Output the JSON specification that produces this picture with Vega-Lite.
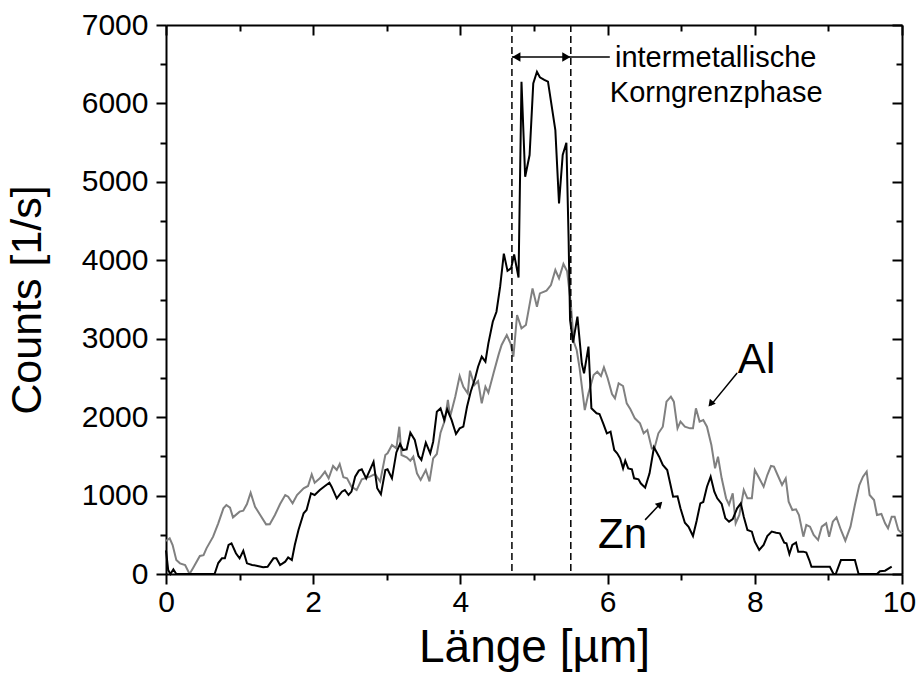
{
  "$schema": "https://vega.github.io/schema/vega-lite/v6.json",
  "width": 736,
  "height": 549,
  "autosize": {"type": "none"},
  "padding": {"left": 166, "top": 25, "right": 16, "bottom": 101},
  "background": "white",
  "config": {
    "view": {"stroke": null},
    "font": "Liberation Sans",
    "axis": {
      "domainColor": "black", "domainWidth": 2, "tickColor": "black", "tickWidth": 2,
      "labelColor": "black", "titleColor": "black",
      "labelFont": "Liberation Sans", "titleFont": "Liberation Sans",
      "labelFontSize": 30, "titleFontSize": 45, "titleFontWeight": "normal", "grid": false,
      "labelFlush": false, "labelOverlap": false
    }
  },
  "datasets": {
    "profiles": [
      {"element":"Al","x":0.00,"y":420},{"element":"Al","x":0.05,"y":455},{"element":"Al","x":0.09,"y":370},{"element":"Al","x":0.14,"y":178},{"element":"Al","x":0.19,"y":136},{"element":"Al","x":0.26,"y":115},{"element":"Al","x":0.32,"y":0},{"element":"Al","x":0.37,"y":80},{"element":"Al","x":0.46,"y":230},{"element":"Al","x":0.51,"y":240},{"element":"Al","x":0.55,"y":327},{"element":"Al","x":0.64,"y":476},{"element":"Al","x":0.71,"y":646},{"element":"Al","x":0.78,"y":837},{"element":"Al","x":0.82,"y":880},{"element":"Al","x":0.87,"y":845},{"element":"Al","x":0.91,"y":722},{"element":"Al","x":1.00,"y":795},{"element":"Al","x":1.05,"y":807},{"element":"Al","x":1.10,"y":892},{"element":"Al","x":1.15,"y":1037},{"element":"Al","x":1.21,"y":858},{"element":"Al","x":1.28,"y":752},{"element":"Al","x":1.36,"y":633},{"element":"Al","x":1.41,"y":635},{"element":"Al","x":1.48,"y":752},{"element":"Al","x":1.55,"y":892},{"element":"Al","x":1.62,"y":1007},{"element":"Al","x":1.66,"y":985},{"element":"Al","x":1.72,"y":901},{"element":"Al","x":1.78,"y":1007},{"element":"Al","x":1.87,"y":1093},{"element":"Al","x":1.93,"y":1122},{"element":"Al","x":1.98,"y":1271},{"element":"Al","x":2.02,"y":1164},{"element":"Al","x":2.09,"y":1220},{"element":"Al","x":2.16,"y":1305},{"element":"Al","x":2.21,"y":1220},{"element":"Al","x":2.27,"y":1377},{"element":"Al","x":2.32,"y":1326},{"element":"Al","x":2.36,"y":1403},{"element":"Al","x":2.41,"y":1233},{"element":"Al","x":2.46,"y":1220},{"element":"Al","x":2.52,"y":1113},{"element":"Al","x":2.59,"y":1070},{"element":"Al","x":2.66,"y":1207},{"element":"Al","x":2.77,"y":1241},{"element":"Al","x":2.84,"y":1275},{"element":"Al","x":2.91,"y":1180},{"element":"Al","x":2.98,"y":1517},{"element":"Al","x":3.01,"y":1539},{"element":"Al","x":3.07,"y":1645},{"element":"Al","x":3.13,"y":1602},{"element":"Al","x":3.17,"y":1878},{"element":"Al","x":3.20,"y":1517},{"element":"Al","x":3.27,"y":1488},{"element":"Al","x":3.32,"y":1445},{"element":"Al","x":3.36,"y":1496},{"element":"Al","x":3.41,"y":1284},{"element":"Al","x":3.46,"y":1199},{"element":"Al","x":3.53,"y":1326},{"element":"Al","x":3.58,"y":1180},{"element":"Al","x":3.63,"y":1475},{"element":"Al","x":3.68,"y":1530},{"element":"Al","x":3.73,"y":1802},{"element":"Al","x":3.79,"y":1964},{"element":"Al","x":3.83,"y":2219},{"element":"Al","x":3.86,"y":2006},{"element":"Al","x":3.93,"y":2261},{"element":"Al","x":3.99,"y":2524},{"element":"Al","x":4.04,"y":2388},{"element":"Al","x":4.10,"y":2304},{"element":"Al","x":4.13,"y":2592},{"element":"Al","x":4.19,"y":2410},{"element":"Al","x":4.24,"y":2460},{"element":"Al","x":4.29,"y":2176},{"element":"Al","x":4.34,"y":2388},{"element":"Al","x":4.38,"y":2312},{"element":"Al","x":4.45,"y":2559},{"element":"Al","x":4.52,"y":2800},{"element":"Al","x":4.56,"y":2920},{"element":"Al","x":4.63,"y":3047},{"element":"Al","x":4.68,"y":2941},{"element":"Al","x":4.72,"y":2771},{"element":"Al","x":4.77,"y":3302},{"element":"Al","x":4.83,"y":3132},{"element":"Al","x":4.89,"y":3175},{"element":"Al","x":4.98,"y":3642},{"element":"Al","x":5.04,"y":3408},{"element":"Al","x":5.08,"y":3578},{"element":"Al","x":5.17,"y":3612},{"element":"Al","x":5.23,"y":3685},{"element":"Al","x":5.29,"y":3876},{"element":"Al","x":5.34,"y":3770},{"element":"Al","x":5.40,"y":3953},{"element":"Al","x":5.45,"y":3860},{"element":"Al","x":5.50,"y":3451},{"element":"Al","x":5.54,"y":2962},{"element":"Al","x":5.58,"y":2856},{"element":"Al","x":5.62,"y":2622},{"element":"Al","x":5.69,"y":2091},{"element":"Al","x":5.74,"y":2304},{"element":"Al","x":5.81,"y":2537},{"element":"Al","x":5.86,"y":2579},{"element":"Al","x":5.91,"y":2525},{"element":"Al","x":5.95,"y":2635},{"element":"Al","x":6.00,"y":2499},{"element":"Al","x":6.06,"y":2295},{"element":"Al","x":6.10,"y":2240},{"element":"Al","x":6.15,"y":2431},{"element":"Al","x":6.21,"y":2397},{"element":"Al","x":6.26,"y":2176},{"element":"Al","x":6.31,"y":2100},{"element":"Al","x":6.37,"y":1985},{"element":"Al","x":6.44,"y":1921},{"element":"Al","x":6.49,"y":1794},{"element":"Al","x":6.54,"y":1836},{"element":"Al","x":6.60,"y":1602},{"element":"Al","x":6.64,"y":1615},{"element":"Al","x":6.69,"y":1794},{"element":"Al","x":6.75,"y":1878},{"element":"Al","x":6.80,"y":2197},{"element":"Al","x":6.86,"y":2261},{"element":"Al","x":6.90,"y":2197},{"element":"Al","x":6.95,"y":1857},{"element":"Al","x":6.99,"y":1943},{"element":"Al","x":7.05,"y":1878},{"element":"Al","x":7.12,"y":1857},{"element":"Al","x":7.16,"y":1857},{"element":"Al","x":7.20,"y":2113},{"element":"Al","x":7.25,"y":1943},{"element":"Al","x":7.30,"y":1964},{"element":"Al","x":7.35,"y":1878},{"element":"Al","x":7.41,"y":1645},{"element":"Al","x":7.46,"y":1347},{"element":"Al","x":7.50,"y":1496},{"element":"Al","x":7.55,"y":1220},{"element":"Al","x":7.61,"y":965},{"element":"Al","x":7.65,"y":884},{"element":"Al","x":7.70,"y":1029},{"element":"Al","x":7.74,"y":646},{"element":"Al","x":7.79,"y":752},{"element":"Al","x":7.85,"y":1071},{"element":"Al","x":7.90,"y":965},{"element":"Al","x":7.96,"y":965},{"element":"Al","x":8.00,"y":1326},{"element":"Al","x":8.06,"y":1220},{"element":"Al","x":8.12,"y":1113},{"element":"Al","x":8.17,"y":1262},{"element":"Al","x":8.22,"y":1377},{"element":"Al","x":8.26,"y":1369},{"element":"Al","x":8.31,"y":1262},{"element":"Al","x":8.37,"y":1135},{"element":"Al","x":8.42,"y":1220},{"element":"Al","x":8.46,"y":922},{"element":"Al","x":8.51,"y":816},{"element":"Al","x":8.56,"y":825},{"element":"Al","x":8.60,"y":752},{"element":"Al","x":8.66,"y":476},{"element":"Al","x":8.70,"y":625},{"element":"Al","x":8.75,"y":603},{"element":"Al","x":8.80,"y":497},{"element":"Al","x":8.86,"y":433},{"element":"Al","x":8.91,"y":603},{"element":"Al","x":8.97,"y":646},{"element":"Al","x":9.01,"y":476},{"element":"Al","x":9.06,"y":667},{"element":"Al","x":9.11,"y":722},{"element":"Al","x":9.17,"y":561},{"element":"Al","x":9.23,"y":425},{"element":"Al","x":9.30,"y":603},{"element":"Al","x":9.36,"y":880},{"element":"Al","x":9.42,"y":1135},{"element":"Al","x":9.47,"y":1241},{"element":"Al","x":9.52,"y":1305},{"element":"Al","x":9.56,"y":1007},{"element":"Al","x":9.62,"y":943},{"element":"Al","x":9.66,"y":752},{"element":"Al","x":9.72,"y":765},{"element":"Al","x":9.77,"y":646},{"element":"Al","x":9.81,"y":582},{"element":"Al","x":9.86,"y":731},{"element":"Al","x":9.90,"y":731},{"element":"Al","x":9.95,"y":561},{"element":"Al","x":10.00,"y":519},
      {"element":"Zn","x":0.00,"y":300},{"element":"Zn","x":0.03,"y":50},{"element":"Zn","x":0.06,"y":0},{"element":"Zn","x":0.10,"y":60},{"element":"Zn","x":0.14,"y":0},{"element":"Zn","x":0.30,"y":0},{"element":"Zn","x":0.50,"y":0},{"element":"Zn","x":0.66,"y":0},{"element":"Zn","x":0.71,"y":140},{"element":"Zn","x":0.76,"y":200},{"element":"Zn","x":0.80,"y":200},{"element":"Zn","x":0.85,"y":370},{"element":"Zn","x":0.89,"y":390},{"element":"Zn","x":0.95,"y":265},{"element":"Zn","x":1.00,"y":200},{"element":"Zn","x":1.05,"y":297},{"element":"Zn","x":1.10,"y":136},{"element":"Zn","x":1.17,"y":115},{"element":"Zn","x":1.23,"y":106},{"element":"Zn","x":1.32,"y":85},{"element":"Zn","x":1.38,"y":93},{"element":"Zn","x":1.46,"y":200},{"element":"Zn","x":1.50,"y":200},{"element":"Zn","x":1.55,"y":115},{"element":"Zn","x":1.62,"y":157},{"element":"Zn","x":1.66,"y":212},{"element":"Zn","x":1.71,"y":178},{"element":"Zn","x":1.75,"y":370},{"element":"Zn","x":1.80,"y":561},{"element":"Zn","x":1.87,"y":774},{"element":"Zn","x":1.91,"y":816},{"element":"Zn","x":1.97,"y":1029},{"element":"Zn","x":2.02,"y":1007},{"element":"Zn","x":2.09,"y":1071},{"element":"Zn","x":2.16,"y":1122},{"element":"Zn","x":2.22,"y":1164},{"element":"Zn","x":2.25,"y":1113},{"element":"Zn","x":2.32,"y":965},{"element":"Zn","x":2.39,"y":1050},{"element":"Zn","x":2.43,"y":1071},{"element":"Zn","x":2.48,"y":1007},{"element":"Zn","x":2.52,"y":1050},{"element":"Zn","x":2.57,"y":1241},{"element":"Zn","x":2.62,"y":1318},{"element":"Zn","x":2.66,"y":1335},{"element":"Zn","x":2.72,"y":1220},{"element":"Zn","x":2.82,"y":1430},{"element":"Zn","x":2.87,"y":1093},{"element":"Zn","x":2.92,"y":1016},{"element":"Zn","x":2.98,"y":1326},{"element":"Zn","x":3.01,"y":1335},{"element":"Zn","x":3.07,"y":1220},{"element":"Zn","x":3.13,"y":1550},{"element":"Zn","x":3.18,"y":1660},{"element":"Zn","x":3.22,"y":1581},{"element":"Zn","x":3.27,"y":1590},{"element":"Zn","x":3.32,"y":1802},{"element":"Zn","x":3.38,"y":1709},{"element":"Zn","x":3.43,"y":1505},{"element":"Zn","x":3.47,"y":1454},{"element":"Zn","x":3.53,"y":1675},{"element":"Zn","x":3.59,"y":1539},{"element":"Zn","x":3.63,"y":1687},{"element":"Zn","x":3.68,"y":2070},{"element":"Zn","x":3.73,"y":2113},{"element":"Zn","x":3.78,"y":1964},{"element":"Zn","x":3.82,"y":2100},{"element":"Zn","x":3.88,"y":1964},{"element":"Zn","x":3.94,"y":1785},{"element":"Zn","x":3.99,"y":1857},{"element":"Zn","x":4.04,"y":1879},{"element":"Zn","x":4.09,"y":2133},{"element":"Zn","x":4.14,"y":2325},{"element":"Zn","x":4.20,"y":2495},{"element":"Zn","x":4.24,"y":2643},{"element":"Zn","x":4.29,"y":2771},{"element":"Zn","x":4.34,"y":2707},{"element":"Zn","x":4.38,"y":2941},{"element":"Zn","x":4.44,"y":3217},{"element":"Zn","x":4.49,"y":3344},{"element":"Zn","x":4.54,"y":3663},{"element":"Zn","x":4.59,"y":4085},{"element":"Zn","x":4.64,"y":3865},{"element":"Zn","x":4.69,"y":3900},{"element":"Zn","x":4.73,"y":4075},{"element":"Zn","x":4.79,"y":3780},{"element":"Zn","x":4.83,"y":6277},{"element":"Zn","x":4.88,"y":5066},{"element":"Zn","x":4.94,"y":5342},{"element":"Zn","x":4.99,"y":6256},{"element":"Zn","x":5.04,"y":6404},{"element":"Zn","x":5.08,"y":6333},{"element":"Zn","x":5.14,"y":6300},{"element":"Zn","x":5.19,"y":6277},{"element":"Zn","x":5.29,"y":5661},{"element":"Zn","x":5.34,"y":4726},{"element":"Zn","x":5.39,"y":5342},{"element":"Zn","x":5.44,"y":5499},{"element":"Zn","x":5.47,"y":4280},{"element":"Zn","x":5.49,"y":3239},{"element":"Zn","x":5.53,"y":2950},{"element":"Zn","x":5.59,"y":3281},{"element":"Zn","x":5.65,"y":2680},{"element":"Zn","x":5.68,"y":2559},{"element":"Zn","x":5.74,"y":2900},{"element":"Zn","x":5.78,"y":2113},{"element":"Zn","x":5.85,"y":2049},{"element":"Zn","x":5.89,"y":2040},{"element":"Zn","x":5.94,"y":1921},{"element":"Zn","x":5.99,"y":1794},{"element":"Zn","x":6.04,"y":1815},{"element":"Zn","x":6.09,"y":1581},{"element":"Zn","x":6.13,"y":1539},{"element":"Zn","x":6.17,"y":1475},{"element":"Zn","x":6.21,"y":1347},{"element":"Zn","x":6.24,"y":1445},{"element":"Zn","x":6.28,"y":1347},{"element":"Zn","x":6.33,"y":1335},{"element":"Zn","x":6.36,"y":1220},{"element":"Zn","x":6.42,"y":1207},{"element":"Zn","x":6.45,"y":1156},{"element":"Zn","x":6.51,"y":1101},{"element":"Zn","x":6.57,"y":1284},{"element":"Zn","x":6.63,"y":1615},{"element":"Zn","x":6.70,"y":1496},{"element":"Zn","x":6.75,"y":1390},{"element":"Zn","x":6.81,"y":1326},{"element":"Zn","x":6.85,"y":1156},{"element":"Zn","x":6.89,"y":986},{"element":"Zn","x":6.95,"y":990},{"element":"Zn","x":6.99,"y":837},{"element":"Zn","x":7.05,"y":654},{"element":"Zn","x":7.10,"y":603},{"element":"Zn","x":7.16,"y":484},{"element":"Zn","x":7.21,"y":680},{"element":"Zn","x":7.26,"y":901},{"element":"Zn","x":7.30,"y":918},{"element":"Zn","x":7.35,"y":1113},{"element":"Zn","x":7.40,"y":1241},{"element":"Zn","x":7.45,"y":1050},{"element":"Zn","x":7.49,"y":965},{"element":"Zn","x":7.55,"y":893},{"element":"Zn","x":7.60,"y":710},{"element":"Zn","x":7.65,"y":667},{"element":"Zn","x":7.70,"y":700},{"element":"Zn","x":7.76,"y":837},{"element":"Zn","x":7.81,"y":901},{"element":"Zn","x":7.85,"y":731},{"element":"Zn","x":7.90,"y":561},{"element":"Zn","x":7.96,"y":540},{"element":"Zn","x":8.00,"y":412},{"element":"Zn","x":8.06,"y":306},{"element":"Zn","x":8.12,"y":370},{"element":"Zn","x":8.17,"y":484},{"element":"Zn","x":8.23,"y":540},{"element":"Zn","x":8.29,"y":527},{"element":"Zn","x":8.34,"y":519},{"element":"Zn","x":8.40,"y":400},{"element":"Zn","x":8.43,"y":391},{"element":"Zn","x":8.47,"y":255},{"element":"Zn","x":8.51,"y":370},{"element":"Zn","x":8.56,"y":400},{"element":"Zn","x":8.59,"y":285},{"element":"Zn","x":8.66,"y":285},{"element":"Zn","x":8.70,"y":272},{"element":"Zn","x":8.74,"y":178},{"element":"Zn","x":8.77,"y":93},{"element":"Zn","x":8.89,"y":93},{"element":"Zn","x":9.02,"y":93},{"element":"Zn","x":9.07,"y":0},{"element":"Zn","x":9.10,"y":0},{"element":"Zn","x":9.17,"y":178},{"element":"Zn","x":9.25,"y":178},{"element":"Zn","x":9.36,"y":178},{"element":"Zn","x":9.41,"y":0},{"element":"Zn","x":9.51,"y":0},{"element":"Zn","x":9.66,"y":0},{"element":"Zn","x":9.70,"y":35},{"element":"Zn","x":9.77,"y":42},{"element":"Zn","x":9.86,"y":93}
    ],
    "phase": [{"x": 4.7}, {"x": 5.5}],
    "arrows": [
      {"x": 4.7, "y": 6592, "x2": 6.03, "y2": 6592},
      {"x": 7.76, "y": 2563, "x2": 7.40, "y2": 2150},
      {"x": 6.51, "y": 690, "x2": 6.72, "y2": 900}
    ],
    "phaseText": [
      {"x": 6.10, "y": 6464, "text": "intermetallische"},
      {"x": 6.03, "y": 6022, "text": "Korngrenzphase"}
    ],
    "elementText": [
      {"x": 7.77, "y": 2563, "text": "Al"},
      {"x": 5.87, "y": 331, "text": "Zn"}
    ]
  },
  "resolve": {"axis": {"x": "independent", "y": "independent"}},
  "layer": [
    {
      "data": {"name": "profiles"},
      "mark": {"type": "line", "strokeWidth": 2},
      "encoding": {
        "x": {"field": "x", "type": "quantitative", "scale": {"domain": [0, 10], "nice": false},
          "axis": {"orient": "bottom", "title": "Länge [µm]", "values": [0,1,2,3,4,5,6,7,8,9,10],
            "labelExpr": "datum.value % 2 ? '' : datum.label",
            "tickSize": {"condition": {"test": "datum.value % 2", "value": 6}, "value": 10},
            "labelOffset": {"condition": {"test": "datum.value == 10", "value": -3}, "value": 0},
            "labelPadding": 3, "titlePadding": 8, "titleFontSize": 46}},
        "y": {"field": "y", "type": "quantitative", "scale": {"domain": [0, 7000], "nice": false},
          "axis": {"orient": "left", "title": "Counts [1/s]", "format": "d",
            "values": [0,500,1000,1500,2000,2500,3000,3500,4000,4500,5000,5500,6000,6500,7000],
            "labelExpr": "datum.value % 1000 ? '' : datum.label",
            "tickSize": {"condition": {"test": "datum.value % 1000", "value": 6}, "value": 10},
            "labelPadding": 8, "titlePadding": 32, "titleFontSize": 43}},
        "color": {"field": "element", "type": "nominal", "scale": {"domain": ["Al", "Zn"], "range": ["#808080", "#000000"]}, "legend": null}
      }
    },
    {
      "data": {"name": "phase"},
      "mark": {"type": "rule", "color": "black", "strokeWidth": 1.5, "strokeDash": [7, 4]},
      "encoding": {"x": {"field": "x", "type": "quantitative", "axis": null}}
    },
    {
      "data": {"name": "arrows"},
      "mark": {"type": "rule", "color": "black", "strokeWidth": 1.5},
      "encoding": {
        "x": {"field": "x", "type": "quantitative", "axis": null},
        "y": {"field": "y", "type": "quantitative", "axis": null},
        "x2": {"field": "x2"},
        "y2": {"field": "y2"}
      }
    },
    {
      "data": {"values": [{"x": 4.76, "y": 6592}]},
      "mark": {"type": "point", "shape": "triangle-left", "filled": true, "color": "black", "size": 90, "opacity": 1},
      "encoding": {"x": {"field": "x", "type": "quantitative", "axis": null}, "y": {"field": "y", "type": "quantitative", "axis": null}}
    },
    {
      "data": {"values": [{"x": 5.44, "y": 6592}]},
      "mark": {"type": "point", "shape": "triangle-right", "filled": true, "color": "black", "size": 90, "opacity": 1},
      "encoding": {"x": {"field": "x", "type": "quantitative", "axis": null}, "y": {"field": "y", "type": "quantitative", "axis": null}}
    },
    {
      "data": {"values": [{"x": 7.41, "y": 2180}]},
      "mark": {"type": "point", "shape": "triangle", "angle": 220, "filled": true, "color": "black", "size": 60, "opacity": 1},
      "encoding": {"x": {"field": "x", "type": "quantitative", "axis": null}, "y": {"field": "y", "type": "quantitative", "axis": null}}
    },
    {
      "data": {"values": [{"x": 6.70, "y": 880}]},
      "mark": {"type": "point", "shape": "triangle", "angle": 45, "filled": true, "color": "black", "size": 60, "opacity": 1},
      "encoding": {"x": {"field": "x", "type": "quantitative", "axis": null}, "y": {"field": "y", "type": "quantitative", "axis": null}}
    },
    {
      "data": {"name": "phaseText"},
      "mark": {"type": "text", "align": "left", "baseline": "alphabetic", "fontSize": 29, "font": "Liberation Sans", "color": "black"},
      "encoding": {
        "x": {"field": "x", "type": "quantitative",
          "axis": {"orient": "top", "title": null, "labels": false, "values": [0,1,2,3,4,5,6,7,8,9,10],
            "tickSize": {"condition": {"test": "datum.value % 2", "value": -6}, "value": -10}}},
        "y": {"field": "y", "type": "quantitative",
          "axis": {"orient": "right", "title": null, "labels": false,
            "values": [0,500,1000,1500,2000,2500,3000,3500,4000,4500,5000,5500,6000,6500,7000],
            "tickSize": {"condition": {"test": "datum.value % 1000", "value": -6}, "value": -10}}},
        "text": {"field": "text"}
      }
    },
    {
      "data": {"name": "elementText"},
      "mark": {"type": "text", "align": "left", "baseline": "alphabetic", "fontSize": 42, "font": "Liberation Sans", "color": "black"},
      "encoding": {
        "x": {"field": "x", "type": "quantitative", "axis": null},
        "y": {"field": "y", "type": "quantitative", "axis": null},
        "text": {"field": "text"}
      }
    }
  ]
}
